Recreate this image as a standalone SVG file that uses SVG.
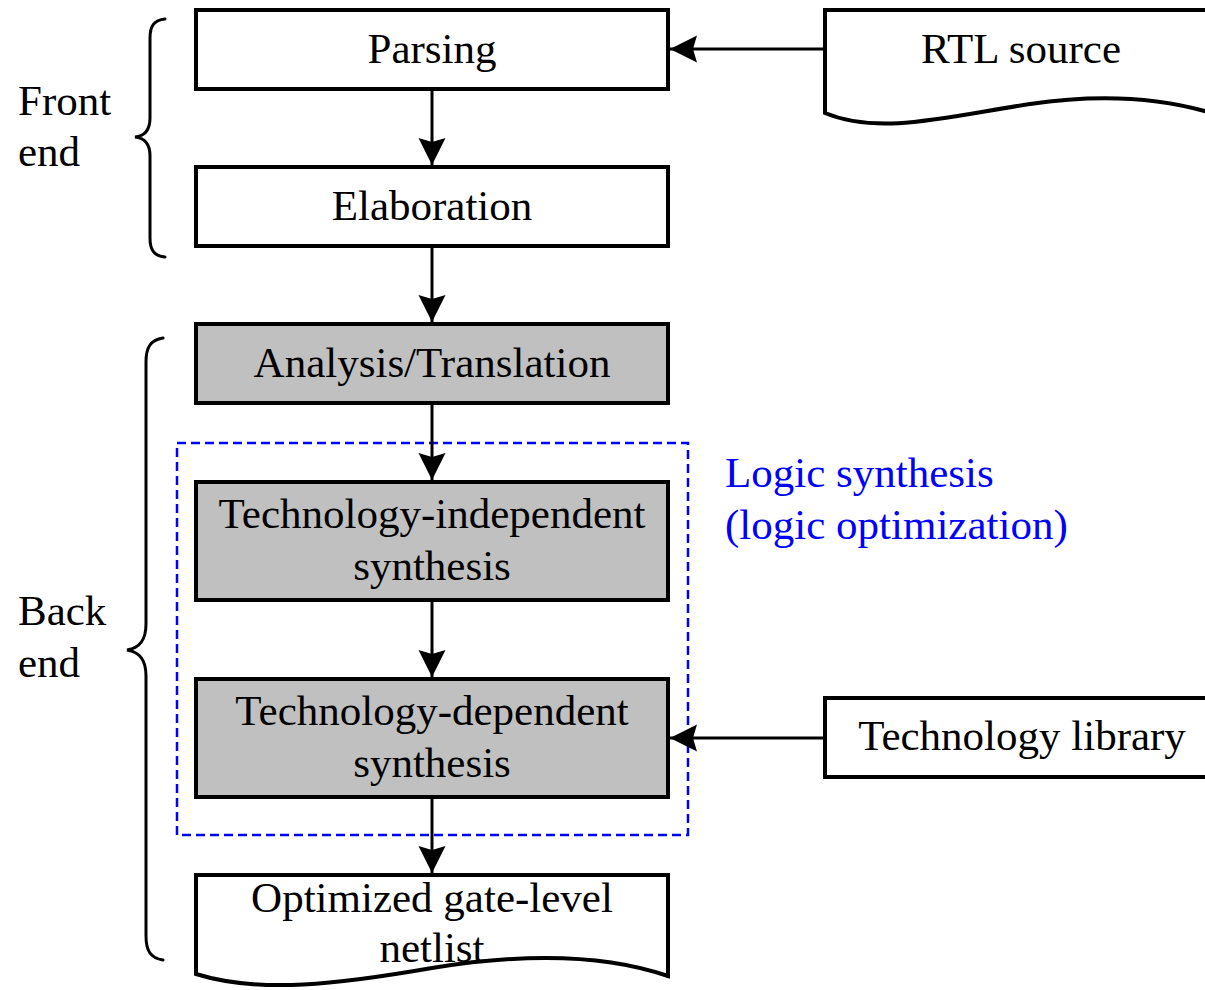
<svg xmlns="http://www.w3.org/2000/svg" width="1205" height="990" viewBox="0 0 1205 990">
  <style>
    .box { fill: #ffffff; stroke: #000000; stroke-width: 4; }
    .shaded { fill: #c0c0c0; stroke: #000000; stroke-width: 4; }
    .lbl { font-family: "Liberation Serif", "Times New Roman", serif; font-size: 43px; fill: #000000; }
    .mid { text-anchor: middle; }
    .blue { fill: #0000ff; }
    .wire { stroke: #000000; stroke-width: 3; fill: none; }
    .brace { stroke: #000000; stroke-width: 3; fill: none; stroke-linecap: round; }
    .region { fill: none; stroke: #0000ff; stroke-width: 2.5; stroke-dasharray: 9 5; }
  </style>
  <defs>
    <marker id="arrow" markerUnits="userSpaceOnUse" markerWidth="30" markerHeight="30" viewBox="0 0 30 30" refX="28" refY="15" orient="auto">
      <path d="M28,15 L1,1.5 L5,15 L1,28.5 Z" fill="#000000"/>
    </marker>
  </defs>

  <rect width="1205" height="990" fill="#ffffff"/>

  <!-- side labels with braces -->
  <g id="front-end">
    <text class="lbl" x="18" y="115">Front</text>
    <text class="lbl" x="18" y="166">end</text>
    <path class="brace" d="M165,19 C154,20 150,26 150,38 V118 C150,130 145,136 135,137 C145,138 150,144 150,156 V238 C150,250 154,256 165,257"/>
  </g>
  <g id="back-end">
    <text class="lbl" x="18" y="625">Back</text>
    <text class="lbl" x="18" y="677">end</text>
    <path class="brace" d="M163,338 C150,340 146,348 146,362 V624 C146,640 140,648 127,650 C140,652 146,660 146,676 V936 C146,950 150,958 163,960"/>
  </g>

  <!-- logic synthesis region -->
  <g id="logic-synthesis">
    <rect class="region" x="177" y="443" width="511" height="392"/>
    <text class="lbl blue" x="725" y="487">Logic synthesis</text>
    <text class="lbl blue" x="725" y="539">(logic optimization)</text>
  </g>

  <!-- connectors -->
  <g id="connectors">
    <line class="wire" x1="432" y1="89" x2="432" y2="165" marker-end="url(#arrow)"/>
    <line class="wire" x1="432" y1="246" x2="432" y2="322" marker-end="url(#arrow)"/>
    <line class="wire" x1="432" y1="403" x2="432" y2="480" marker-end="url(#arrow)"/>
    <line class="wire" x1="432" y1="600" x2="432" y2="677" marker-end="url(#arrow)"/>
    <line class="wire" x1="432" y1="797" x2="432" y2="873" marker-end="url(#arrow)"/>
    <line class="wire" x1="825" y1="49" x2="670" y2="49" marker-end="url(#arrow)"/>
    <line class="wire" x1="825" y1="738" x2="670" y2="738" marker-end="url(#arrow)"/>
  </g>

  <!-- process steps -->
  <g id="parsing">
    <rect class="box" x="196" y="10" width="472" height="79"/>
    <text class="lbl mid" x="432" y="63">Parsing</text>
  </g>
  <g id="elaboration">
    <rect class="box" x="196" y="167" width="472" height="79"/>
    <text class="lbl mid" x="432" y="220">Elaboration</text>
  </g>
  <g id="analysis-translation">
    <rect class="shaded" x="196" y="324" width="472" height="79"/>
    <text class="lbl mid" x="432" y="377">Analysis/Translation</text>
  </g>
  <g id="tech-independent">
    <rect class="shaded" x="196" y="482" width="472" height="118"/>
    <text class="lbl mid" x="432" y="528">Technology-independent</text>
    <text class="lbl mid" x="432" y="580">synthesis</text>
  </g>
  <g id="tech-dependent">
    <rect class="shaded" x="196" y="679" width="472" height="118"/>
    <text class="lbl mid" x="432" y="725">Technology-dependent</text>
    <text class="lbl mid" x="432" y="777">synthesis</text>
  </g>

  <!-- documents -->
  <g id="netlist">
    <path class="box" d="M196,875 H668 V976 C610,956 530,952 432,968 C340,984 260,994 196,974 Z"/>
    <text class="lbl mid" x="432" y="912">Optimized gate-level</text>
    <text class="lbl mid" x="432" y="962">netlist</text>
  </g>
  <g id="rtl-source">
    <path class="box" d="M825,10 H1215 V114 C1170,100 1110,92 1030,104 C950,116 880,136 825,113 Z"/>
    <text class="lbl mid" x="1021" y="63">RTL source</text>
  </g>
  <g id="tech-library">
    <rect class="box" x="825" y="698" width="390" height="79"/>
    <text class="lbl mid" x="1022" y="750">Technology library</text>
  </g>
</svg>
